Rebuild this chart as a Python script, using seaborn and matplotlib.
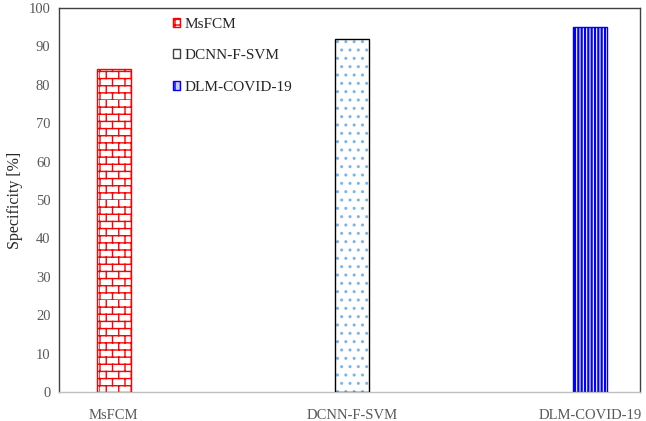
import matplotlib
matplotlib.use('Agg')
import numpy as np
import matplotlib.pyplot as plt
import matplotlib.hatch as mhatch
from matplotlib.path import Path
import seaborn as sns
from matplotlib.patches import Patch
import warnings

warnings.filterwarnings('ignore')

# data
models = ['MsFCM', 'DCNN-F-SVM', 'DLM-COVID-19']
specificity = [84, 92, 95]


# brick hatch ('b'), like the Excel brick fill
class BrickHatch(mhatch.HatchPatternBase):
    def __init__(self, hatch, density):
        self.rows = 14 * hatch.count('b')
        self.cols = 8 * hatch.count('b')
        if self.rows:
            self.num_vertices = self.rows * 2 + self.rows * (self.cols + 1) * 2
        else:
            self.num_vertices = 0

    def set_vertices_and_codes(self, vertices, codes):
        pts = []
        for i in range(self.rows):
            y0 = i / self.rows
            y1 = (i + 1) / self.rows
            pts += [(0, y0), (1, y0)]
            off = 0.5 * (i % 2)
            for j in range(self.cols + 1):
                x = min((j + off) / self.cols, 1.0)
                pts += [(x, y0), (x, y1)]
        vertices[:] = np.array(pts)
        codes[0::2] = Path.MOVETO
        codes[1::2] = Path.LINETO


mhatch._hatch_types.append(BrickHatch)

sns.set_style('white')
plt.rcParams['font.family'] = ['Liberation Serif', 'DejaVu Serif']
plt.rcParams['hatch.linewidth'] = 1.0

fig = plt.figure(figsize=(6.46, 4.21), dpi=100)
ax = fig.add_axes([0.091, 0.069, 0.9, 0.912])

sns.barplot(x=models, y=specificity, ax=ax, width=0.143, color='white',
            saturation=1)

# styles per bar: (hatch colour, hatch, edge, hatch width)
styles = [
    ('#ff0000', 'b', '#ff0000', 1.0),
    ('#7ab4ea', '..', '#000000', 1.0),
    ('#0000ff', '|||||', '#0000ff', 1.6),
]
bars = list(ax.patches)
for bar, (hc, h, ec, hw) in zip(bars, styles):
    bar.set_facecolor('white')
    bar.set_hatch(h)
    bar.set_edgecolor(hc)
    bar.set_linewidth(0)
    if hasattr(bar, 'set_hatch_linewidth'):
        bar.set_hatch_linewidth(hw)
    ax.add_patch(plt.Rectangle((bar.get_x(), 0), bar.get_width(), bar.get_height(),
                               fill=False, edgecolor=ec, linewidth=1.0, zorder=3))

ax.set_ylim(0, 100)
ax.set_yticks(range(0, 101, 10))
ax.set_xlim(-0.23, 2.21)
ax.set_ylabel('Specificity [%]', fontsize=11.5, color='#262626', labelpad=4)
ax.tick_params(axis='both', labelsize=10.5, colors='#595959', length=0, pad=6)
ax.tick_params(axis='x', pad=12)

for side in ['left', 'top', 'right']:
    ax.spines[side].set_color('#404040')
    ax.spines[side].set_linewidth(1.0)
ax.spines['bottom'].set_color('#bfbfbf')
ax.spines['bottom'].set_linewidth(1.0)

handles = [
    Patch(facecolor='white', edgecolor='#ff0000', hatch='+++', label=models[0]),
    Patch(facecolor='white', edgecolor='#404040', hatch='', label=models[1]),
    Patch(facecolor='#ccccff', edgecolor='#0000ff', hatch='|||', label=models[2]),
]
ax.legend(handles=handles, loc='upper left', bbox_to_anchor=(0.172, 1.01),
          frameon=False, fontsize=11, handlelength=0.5, handleheight=0.55,
          handletextpad=0.3, labelspacing=1.2)

fig.savefig('out.png', dpi=100)
